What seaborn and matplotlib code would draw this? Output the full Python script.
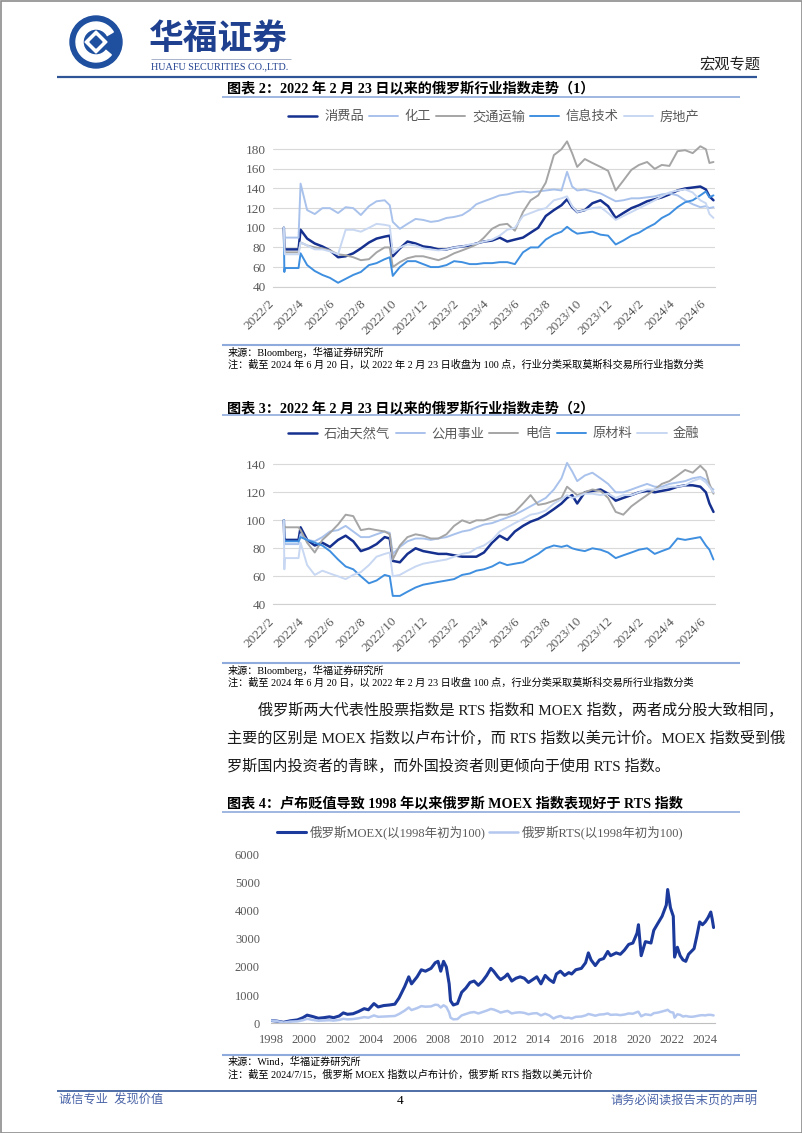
import pandas as pd
import matplotlib
matplotlib.use('Agg')
import matplotlib.pyplot as plt
import seaborn as sns
from matplotlib.patches import Circle, Wedge, Polygon, Rectangle

sns.set_style("white")
plt.rcParams['font.family'] = ['Liberation Serif', 'Noto Sans CJK SC']
plt.rcParams['axes.unicode_minus'] = False

W, H = 802, 1133

# ---------------- data: sector indices (Feb 23, 2022 = 100) ----------------
sector_dates = ['2022-02-23', '2022-02-24', '2022-02-25', '2022-03-24', '2022-03-28',
                '2022-04-10', '2022-04-25', '2022-05-10', '2022-05-25', '2022-06-10',
                '2022-06-25', '2022-07-10', '2022-07-25', '2022-08-10', '2022-08-25',
                '2022-09-10', '2022-09-20', '2022-09-26', '2022-10-10', '2022-10-25',
                '2022-11-10', '2022-11-25', '2022-12-10', '2022-12-25', '2023-01-10',
                '2023-01-25', '2023-02-10', '2023-02-25', '2023-03-10', '2023-03-25',
                '2023-04-10', '2023-04-25', '2023-05-10', '2023-05-25', '2023-06-10',
                '2023-06-25', '2023-07-10', '2023-07-25', '2023-08-10', '2023-08-25',
                '2023-09-05', '2023-09-15', '2023-09-25', '2023-10-10', '2023-10-25',
                '2023-11-10', '2023-11-25', '2023-12-10', '2023-12-25', '2024-01-10',
                '2024-01-25', '2024-02-10', '2024-02-25', '2024-03-10', '2024-03-25',
                '2024-04-10', '2024-04-25', '2024-05-10', '2024-05-25', '2024-06-05',
                '2024-06-12', '2024-06-20']

# chart 2 series
consumer = [100, 78, 78, 78, 98, 89, 84, 81, 77, 70, 71, 74, 79, 85, 89, 91, 92, 71, 79, 86,
            84, 81, 80, 78, 78, 80, 81, 82, 84, 86, 87, 90, 86, 88, 90, 95, 100, 112, 118, 123,
            129, 121, 116, 118, 125, 128, 122, 110, 115, 120, 123, 127, 129, 131, 134, 138, 140, 141,
            142, 139, 132, 128]
chemicals = [100, 90, 90, 90, 145, 118, 114, 120, 120, 115, 121, 120, 113, 122, 127, 128, 123, 106,
             99, 104, 109, 108, 106, 107, 110, 111, 113, 118, 124, 127, 130, 133, 134, 136, 137, 136,
             137, 138, 139, 138, 157, 142, 138, 139, 137, 135, 131, 127, 128, 130, 130, 131, 132, 134,
             135, 133, 128, 124, 121, 122, 120, 121]
transport = [100, 75, 75, 75, 85, 82, 80, 79, 77, 73, 72, 70, 67, 68, 75, 80, 80, 60, 65, 69,
             71, 71, 69, 67, 70, 74, 77, 80, 83, 90, 99, 103, 104, 97, 116, 128, 133, 146, 174, 180,
             188, 176, 162, 170, 166, 162, 158, 138, 148, 159, 164, 167, 160, 164, 163, 178, 179, 176,
             183, 180, 166, 167]
infotech = [100, 55, 59, 59, 74, 62, 56, 52, 49, 44, 48, 52, 55, 62, 64, 68, 70, 51, 60, 66,
            66, 63, 60, 60, 62, 66, 65, 63, 63, 64, 64, 65, 65, 63, 75, 80, 80, 88, 93, 96,
            101, 97, 94, 95, 96, 93, 92, 83, 87, 92, 95, 100, 104, 110, 114, 121, 126, 128,
            133, 137, 131, 133]
realestate = [100, 80, 73, 73, 85, 82, 78, 78, 76, 73, 98, 98, 96, 100, 104, 103, 102, 74, 80, 83,
              82, 79, 78, 77, 78, 80, 81, 83, 84, 86, 88, 92, 98, 100, 112, 115, 118, 120, 128, 130,
              132, 122, 116, 118, 120, 121, 115, 108, 112, 116, 120, 124, 128, 132, 136, 138, 139, 136,
              128, 125, 114, 110]

# chart 3 series
oilgas = [100, 86, 86, 86, 95, 86, 82, 84, 81, 86, 89, 85, 78, 80, 83, 88, 87, 71, 70, 76,
          80, 78, 77, 76, 76, 75, 74, 74, 74, 77, 84, 89, 86, 92, 96, 99, 101, 104, 108, 112,
          116, 118, 112, 120, 121, 122, 119, 114, 116, 118, 120, 121, 120, 121, 122, 124, 125, 125,
          124, 120, 112, 106]
utilities = [100, 83, 83, 83, 90, 86, 85, 88, 92, 93, 96, 92, 88, 88, 90, 92, 91, 76, 81, 85,
             87, 87, 86, 87, 88, 90, 92, 93, 95, 97, 98, 100, 102, 104, 107, 110, 113, 116, 122, 130,
             141, 135, 128, 132, 134, 130, 126, 120, 120, 122, 124, 126, 124, 124, 126, 127, 128, 130,
             131, 129, 124, 122]
telecom = [100, 95, 95, 95, 93, 84, 77, 86, 91, 97, 104, 103, 93, 94, 93, 92, 90, 72, 82, 88,
           90, 89, 87, 87, 90, 96, 100, 98, 100, 100, 102, 104, 104, 106, 112, 118, 111, 112, 114, 116,
           124, 121, 118, 120, 122, 121, 116, 106, 104, 110, 114, 118, 122, 126, 128, 132, 136, 134,
           139, 135, 126, 119]
materials = [100, 85, 85, 85, 88, 86, 84, 82, 78, 72, 67, 65, 60, 55, 57, 61, 60, 46, 46, 49,
             52, 54, 55, 56, 57, 58, 61, 62, 64, 65, 67, 70, 68, 69, 70, 73, 76, 80, 82, 81,
             82, 80, 79, 78, 80, 79, 77, 73, 75, 77, 79, 80, 76, 78, 80, 87, 86, 87,
             88, 82, 79, 72]
finance = [100, 65, 73, 73, 84, 68, 61, 64, 62, 60, 58, 61, 63, 68, 74, 76, 77, 60, 61, 64,
           67, 69, 70, 71, 72, 74, 76, 77, 80, 82, 86, 92, 95, 98, 101, 104, 105, 107, 112, 115,
           118, 116, 117, 119, 119, 118, 119, 116, 118, 118, 120, 122, 122, 123, 124, 124, 125, 128,
           130, 127, 124, 120]

# chart 4: MOEX vs RTS (start of 1998 = 100)
index_dates = ['1998-01', '1998-05', '1998-10', '1999-03', '1999-08', '1999-12',
               '2000-03', '2000-07', '2000-11', '2001-03', '2001-07', '2001-10',
               '2002-02', '2002-05', '2002-08', '2002-12', '2003-04', '2003-08', '2003-11',
               '2004-03', '2004-06', '2004-10', '2005-02', '2005-06', '2005-09',
               '2006-01', '2006-04', '2006-06', '2006-10', '2007-01', '2007-04', '2007-08', '2007-11',
               '2008-01', '2008-03', '2008-05', '2008-07', '2008-09', '2008-10', '2008-12',
               '2009-03', '2009-06', '2009-09', '2009-12',
               '2010-03', '2010-06', '2010-09', '2010-12',
               '2011-03', '2011-05', '2011-08', '2011-10',
               '2012-01', '2012-03', '2012-06', '2012-09', '2012-12',
               '2013-03', '2013-06', '2013-09', '2013-12',
               '2014-03', '2014-06', '2014-09', '2014-12',
               '2015-02', '2015-05', '2015-08', '2015-11',
               '2016-01', '2016-04', '2016-08', '2016-11',
               '2017-01', '2017-03', '2017-06', '2017-09', '2017-12',
               '2018-03', '2018-05', '2018-09', '2018-12',
               '2019-03', '2019-06', '2019-09', '2019-12',
               '2020-01', '2020-03', '2020-06', '2020-10', '2020-12',
               '2021-03', '2021-06', '2021-09', '2021-10', '2021-12',
               '2022-02', '2022-03', '2022-05', '2022-07', '2022-09', '2022-11',
               '2023-01', '2023-03', '2023-05', '2023-07', '2023-09', '2023-11',
               '2024-01', '2024-03', '2024-05', '2024-06', '2024-07']
moex = [100, 80, 35, 90, 120, 200,
        290, 240, 180, 200, 230, 200,
        260, 370, 320, 340, 420, 520, 480,
        700, 580, 630, 650, 680, 900,
        1300, 1650, 1400, 1650, 1900, 1850, 1950, 2150,
        2200, 1850, 2200, 2000, 1400, 800, 650,
        700, 1100, 1250, 1450,
        1500, 1350, 1500, 1700,
        1950, 1850, 1650, 1550,
        1650, 1750, 1500, 1600, 1650,
        1600, 1450, 1550, 1650,
        1400, 1700, 1550, 1450,
        1750, 1850, 1700, 1800,
        1750, 1900, 1950, 2150,
        2500, 2250, 2050, 2250, 2300,
        2550, 2400, 2500, 2450,
        2600, 2800, 2850, 3200,
        3500, 2400, 2900, 2850, 3300,
        3550, 3800, 4200, 4750, 4100,
        3800, 2350, 2700, 2400, 2250, 2200,
        2450, 2550, 2650, 3100, 3600, 3500,
        3600, 3750, 3950, 3700, 3400]
rts = [100, 80, 25, 60, 70, 110,
       160, 120, 90, 100, 110, 95,
       120, 160, 140, 150, 180, 220, 200,
       280, 230, 240, 250, 260, 330,
       450, 560, 470, 540, 610, 590, 600, 660,
       650, 560, 640, 580, 380, 200, 140,
       150, 280, 330, 380,
       400, 350, 400, 450,
       510, 490, 430, 380,
       420, 440, 350, 380, 390,
       370, 320, 350, 360,
       280, 340, 280, 170,
       220, 260, 190, 200,
       170, 230, 240, 280,
       330, 310, 270, 310, 320,
       350, 300, 310, 290,
       310, 350, 340, 400,
       410, 250, 320, 290, 360,
       380, 420, 460, 480, 400,
       380, 200, 320, 300, 240, 260,
       240, 230, 240, 260, 280, 290,
       280, 300, 300, 290, 280]

NAVY = '#15308e'
GRAY = '#a5a5a5'
MID = '#3f8fe0'
LIGHT = '#a9c2ec'
PALE = '#c8d7f2'
TICK = '#595959'
RULE = '#8faadc'
BRAND = '#1f3f8f'

sector1 = [('消费品', consumer, NAVY, 1.8), ('化工', chemicals, LIGHT, 1.4),
           ('交通运输', transport, GRAY, 1.4), ('信息技术', infotech, MID, 1.4),
           ('房地产', realestate, PALE, 1.4)]
sector2 = [('石油天然气', oilgas, NAVY, 1.8), ('公用事业', utilities, LIGHT, 1.4),
           ('电信', telecom, GRAY, 1.4), ('原材料', materials, MID, 1.4),
           ('金融', finance, PALE, 1.4)]

fig = plt.figure(figsize=(W / 100, H / 100), dpi=100)
page = fig.add_axes([0, 0, 1, 1])
page.set_xlim(0, W)
page.set_ylim(H, 0)
page.axis('off')


def px_axes(l, t, r, b):
    return fig.add_axes([l / W, 1 - b / H, (r - l) / W, (b - t) / H])


def put(x, y, s, size, color='#000000', ha='left', weight='normal', family=None):
    kw = {}
    if family:
        kw['family'] = family
    page.text(x, y, s, fontsize=size, color=color, ha=ha, va='center', fontweight=weight, **kw)


def rule(y, x0, x1, color=RULE, lw=1.2):
    page.plot([x0, x1], [y, y], color=color, lw=lw, solid_capstyle='butt')


def sector_chart(box, series, ymax, legend_y):
    ax = px_axes(*box)
    d = pd.to_datetime(sector_dates)
    for name, vals, color, lw in series:
        sns.lineplot(x=d, y=vals, ax=ax, color=color, linewidth=lw, legend=False)
    ax.set_ylim(40, ymax)
    ax.set_yticks(range(40, ymax + 1 - (ymax % 20 != 0) * 10, 20))
    ax.set_xlim(pd.Timestamp('2022-02-01'), pd.Timestamp('2024-06-23'))
    ticks = pd.date_range('2022-02-01', '2024-06-01', freq='2MS')
    ax.set_xticks(ticks)
    ax.set_xticklabels([f'{t.year}/{t.month}' for t in ticks], rotation=45,
                       ha='right', va='center', rotation_mode='anchor')
    ax.set_axisbelow(True)
    ax.yaxis.grid(True, color='#d9d9d9', lw=0.8)
    ax.xaxis.grid(False)
    for s in ['top', 'right', 'left']:
        ax.spines[s].set_visible(False)
    ax.spines['bottom'].set_color('#d0d0d0')
    ax.tick_params(axis='x', length=4, color='#d0d0d0', labelsize=9.5, labelcolor=TICK, pad=7)
    ax.tick_params(axis='y', length=0, labelsize=9.5, labelcolor=TICK, pad=5)
    ax.set_xlabel('')
    ax.set_ylabel('')
    fig.legend(ax.get_lines(), [s[0] for s in series], loc='center',
               bbox_to_anchor=(494 / W, 1 - legend_y / H), ncol=5, frameon=False,
               fontsize=9.5, handlelength=2.2, handletextpad=0.5, columnspacing=0.4,
               labelcolor=TICK)
    return ax


# ---------------- header ----------------
page.add_patch(Circle((96, 42), 26, color='#1f4f9f'))
page.add_patch(Wedge((96, 42), 20, 40, 330, width=7, color='white'))
page.add_patch(Polygon([(96, 31), (107, 42), (96, 53), (85, 42)], closed=True, color='white'))
page.add_patch(Polygon([(96, 36), (102, 42), (96, 48), (90, 42)], closed=True, color='#1f4f9f'))
put(149, 38, '华福证券', 25, BRAND, weight='bold', family=['Noto Sans CJK SC'])
rule(59, 151, 291, '#9aa6c4', 0.6)
put(151, 67, 'HUAFU SECURITIES CO.,LTD.', 7.3, BRAND)
put(760, 65, '宏观专题', 11, '#222222', ha='right')
rule(77, 57, 757, '#2f5597', 1.6)

# ---------------- chart 2 ----------------
put(227, 88, '图表 2：2022 年 2 月 23 日以来的俄罗斯行业指数走势（1）', 10.2, weight='bold')
rule(97, 222, 740)
sector_chart((272.7, 139.4, 715, 286.7), sector1, 190, 117)
rule(345, 222, 740, lw=1.5)
put(228, 352, '来源：Bloomberg，华福证券研究所', 7.3)
put(228, 365, '注：截至 2024 年 6 月 20 日，以 2022 年 2 月 23 日收盘为 100 点，行业分类采取莫斯科交易所行业指数分类', 7.3)

# ---------------- chart 3 ----------------
put(227, 408, '图表 3：2022 年 2 月 23 日以来的俄罗斯行业指数走势（2）', 10.2, weight='bold')
rule(415, 222, 740)
sector_chart((272.7, 450.3, 715, 604.3), sector2, 150, 434)
rule(663, 222, 740, lw=1.5)
put(228, 670, '来源：Bloomberg，华福证券研究所', 7.3)
put(228, 683, '注：截至 2024 年 6 月 20 日，以 2022 年 2 月 23 日收盘 100 点，行业分类采取莫斯科交易所行业指数分类', 7.3)

# ---------------- body text ----------------
put(258, 710, '俄罗斯两大代表性股票指数是 RTS 指数和 MOEX 指数，两者成分股大致相同，', 10.9, '#1a1a1a')
put(227, 738, '主要的区别是 MOEX 指数以卢布计价，而 RTS 指数以美元计价。MOEX 指数受到俄', 10.9, '#1a1a1a')
put(227, 766, '罗斯国内投资者的青睐，而外国投资者则更倾向于使用 RTS 指数。', 10.9, '#1a1a1a')

# ---------------- chart 4 ----------------
put(227, 803, '图表 4：卢布贬值导致 1998 年以来俄罗斯 MOEX 指数表现好于 RTS 指数', 10.2, weight='bold')
rule(812, 222, 740)
ax3 = px_axes(271, 854.3, 715, 1023.3)
d3 = pd.to_datetime(index_dates)
sns.lineplot(x=d3, y=moex, ax=ax3, color='#1b3a9c', linewidth=2.2, legend=False)
sns.lineplot(x=d3, y=rts, ax=ax3, color='#b4c7ef', linewidth=1.8, legend=False)
ax3.set_ylim(0, 6000)
ax3.set_yticks(range(0, 6001, 1000))
ax3.set_xlim(pd.Timestamp('1998-01-01'), pd.Timestamp('2024-08-01'))
years = pd.date_range('1998-01-01', '2024-01-01', freq='2YS')
ax3.set_xticks(years)
ax3.set_xticklabels([str(y.year) for y in years])
for s in ['top', 'right', 'left']:
    ax3.spines[s].set_visible(False)
ax3.spines['bottom'].set_color('#bfbfbf')
ax3.tick_params(axis='x', length=3, color='#bfbfbf', labelsize=9, labelcolor=TICK, pad=5)
ax3.tick_params(axis='y', length=0, labelsize=9, labelcolor=TICK, pad=8)
ax3.grid(False)
ax3.set_xlabel('')
ax3.set_ylabel('')
fig.legend(ax3.get_lines(), ['俄罗斯MOEX(以1998年初为100)', '俄罗斯RTS(以1998年初为100)'],
           loc='center', bbox_to_anchor=(480 / W, 1 - 832 / H), ncol=2, frameon=False,
           fontsize=9, handlelength=2.3, handletextpad=0.3, columnspacing=0.3, labelcolor=TICK)
rule(1055, 222, 740, lw=1.5)
put(228, 1062, '来源：Wind，华福证券研究所', 7.3)
put(228, 1075, '注：截至 2024/7/15，俄罗斯 MOEX 指数以卢布计价，俄罗斯 RTS 指数以美元计价', 7.3)

# ---------------- footer ----------------
rule(1091, 57, 757, '#2f5597', 1.2)
put(59, 1101, '诚信专业  发现价值', 8.8, '#4a64a8')
put(400, 1101, '4', 9.5, '#000000', ha='center')
put(757, 1101, '请务必阅读报告末页的声明', 8.8, '#4a64a8', ha='right')
page.add_patch(Rectangle((0.5, 0.5), W - 1, H - 1, fill=False, ec='#8c8c8c', lw=1.2))

fig.savefig('out.png', dpi=100)
